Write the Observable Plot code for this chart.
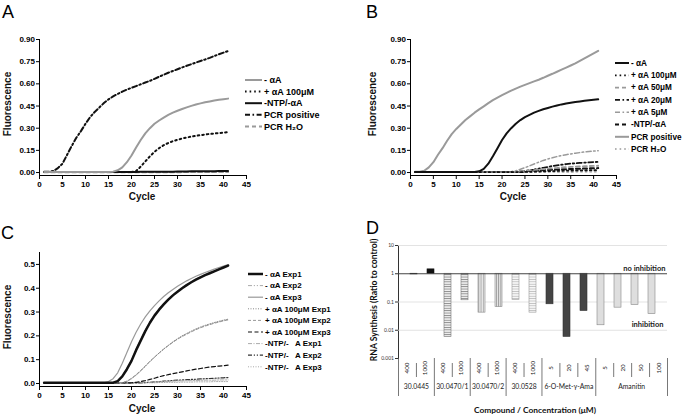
<!DOCTYPE html>
<html><head><meta charset="utf-8">
<script src="https://cdn.jsdelivr.net/npm/d3@7"></script>
<script src="https://cdn.jsdelivr.net/npm/@observablehq/plot@0.6"></script>
<style>
body{margin:0;background:#fff}
#wrap{position:relative;width:685px;height:415px;overflow:hidden;background:#fff}
.panel{position:absolute}
#overlay{position:absolute;left:0;top:0;pointer-events:none}
</style></head><body>
<div id="wrap">
  <div class="panel" id="pA" style="left:0;top:0"></div>
  <div class="panel" id="pB" style="left:342px;top:0"></div>
  <div class="panel" id="pC" style="left:0;top:207px"></div>
  <div class="panel" id="pD" style="left:342px;top:207px"></div>
  <div class="panel" id="pT" style="left:342px;top:358px"></div>
</div>
<script>
// ---------- data ----------
const cycles = [1,2,3,4,5,6,7,8,9,10,11,12,13,14,15,16,17,18,19,20,21,22,23,24,25,26,27,28,29,30,31,32,33,34,35,36,37,38,39,40,41];
const xTicks = [0,5,10,15,20,25,30,35,40,45];
const yTicksAB = [0,0.15,0.30,0.45,0.60,0.75,0.90];
const yTicksC = [0,0.1,0.2,0.3,0.4,0.5];

// Panel A
const A_minusAA = [0.003,0.003,0.003,0.003,0.003, 0.003,0.003,0.003,0.003,0.003, 0.003,0.003,0.003,0.003,0.003, 0.006,0.015,0.035,0.07,0.115,0.17,0.22,0.265,0.3,0.33,0.352,0.372,0.39,0.405,0.418,0.43,0.441,0.451,0.46,0.468,0.475,0.481,0.487,0.492,0.496,0.5];
const A_plus100 = [0.003,0.003,0.003,0.003,0.003, 0.003,0.003,0.003,0.003,0.003, 0.003,0.003,0.003,0.003,0.003, 0.003,0.003,0.003,0.003,0.003, 0.01,0.04,0.075,0.11,0.14,0.165,0.185,0.2,0.212,0.222,0.23,0.237,0.243,0.248,0.253,0.257,0.261,0.264,0.267,0.27,0.273];
const A_ntp = [0.004,0.004,0.004,0.004,0.004, 0.004,0.004,0.004,0.004,0.004, 0.004,0.004,0.004,0.004,0.004, 0.004,0.004,0.004,0.004,0.004, 0.004,0.005,0.005,0.005,0.005,0.006,0.006,0.006,0.006,0.007,0.007,0.007,0.008,0.008,0.008,0.009,0.009,0.009,0.01,0.01,0.01];
const A_pos = [0.005,0.005,0.01,0.03,0.06,0.12,0.18,0.235,0.28,0.33,0.375,0.41,0.44,0.47,0.495,0.515,0.532,0.547,0.561,0.573,0.585,0.597,0.609,0.62,0.634,0.648,0.662,0.675,0.687,0.699,0.711,0.722,0.733,0.744,0.755,0.765,0.776,0.788,0.8,0.811,0.822];
const A_h2o = [0.002,0.002,0.002,0.002,0.002, 0.002,0.002,0.002,0.002,0.002, 0.002,0.002,0.002,0.002,0.002, 0.002,0.002,0.002,0.002,0.002, 0.002,0.002,0.002,0.002,0.002, 0.002,0.002,0.002,0.002,0.002, 0.003,0.003,0.003,0.003,0.003, 0.003,0.003,0.003,0.003,0.003,0.003];

// Panel B
const B_minusAA = [0.003,0.003,0.003,0.003,0.003, 0.003,0.003,0.003,0.003,0.003, 0.003,0.003,0.003,0.003, 0.008,0.025,0.06,0.11,0.165,0.22,0.265,0.3,0.33,0.355,0.375,0.39,0.405,0.417,0.428,0.437,0.446,0.454,0.461,0.467,0.472,0.477,0.481,0.485,0.489,0.492,0.495];
const B_100 = [0.003,0.003,0.003,0.003,0.003, 0.003,0.003,0.003,0.003,0.003, 0.003,0.003,0.003,0.003,0.003, 0.003,0.003,0.003,0.003,0.003, 0.003,0.003,0.003,0.003, 0.004,0.005,0.006,0.007,0.008,0.009,0.01,0.011,0.012,0.013,0.013,0.014,0.015,0.015,0.016,0.016,0.017];
const B_50 = [0.003,0.003,0.003,0.003,0.003, 0.003,0.003,0.003,0.003,0.003, 0.003,0.003,0.003,0.003,0.003, 0.003,0.003,0.003,0.003,0.003, 0.003,0.003, 0.005,0.008,0.011,0.014,0.017,0.02,0.023,0.026,0.029,0.031,0.034,0.036,0.038,0.04,0.041,0.043,0.044,0.045,0.046];
const B_20 = [0.003,0.003,0.003,0.003,0.003, 0.003,0.003,0.003,0.003,0.003, 0.003,0.003,0.003,0.003,0.003, 0.003,0.003,0.003,0.003,0.003, 0.003,0.003,0.003, 0.006,0.01,0.015,0.02,0.026,0.032,0.038,0.044,0.049,0.053,0.057,0.06,0.063,0.065,0.067,0.069,0.071,0.072];
const B_5 = [0.003,0.003,0.003,0.003,0.003, 0.003,0.003,0.003,0.003,0.003, 0.003,0.003,0.003,0.003,0.003, 0.003,0.003,0.003,0.003,0.003, 0.003, 0.006,0.012,0.022,0.033,0.045,0.058,0.07,0.082,0.092,0.1,0.108,0.115,0.121,0.126,0.131,0.135,0.139,0.142,0.145,0.148];
const B_ntp = [0.004,0.004,0.004,0.004,0.004, 0.004,0.004,0.004,0.004,0.004, 0.004,0.004,0.004,0.004,0.004, 0.004,0.004,0.004,0.004,0.004, 0.004,0.004,0.004, 0.006,0.008,0.01,0.012,0.014,0.016,0.018,0.019,0.021,0.022,0.023,0.024,0.025,0.026,0.027,0.028,0.029,0.03];
const B_pos = [0.005,0.005,0.012,0.035,0.07,0.12,0.165,0.215,0.26,0.295,0.325,0.355,0.38,0.405,0.427,0.448,0.47,0.49,0.507,0.523,0.539,0.554,0.568,0.581,0.593,0.605,0.617,0.628,0.641,0.655,0.668,0.682,0.696,0.71,0.724,0.738,0.755,0.772,0.789,0.806,0.823];
const B_h2o = [0.004,0.004,0.004,0.004,0.004, 0.004,0.004,0.004,0.004,0.004, 0.004,0.004,0.004,0.004,0.004, 0.004,0.004,0.004,0.004,0.004, 0.004,0.004,0.004,0.004,0.004, 0.004,0.004,0.004,0.004,0.004, 0.004,0.004,0.004,0.004,0.004, 0.005,0.005,0.005,0.005,0.005,0.005];

// Panel C
const C_a1 = [0.003,0.003,0.003,0.003,0.003, 0.003,0.003,0.003,0.003,0.003, 0.003,0.003,0.003,0.003,0.003, 0.003, 0.01,0.03,0.06,0.095,0.14,0.18,0.22,0.255,0.285,0.31,0.332,0.352,0.37,0.385,0.4,0.413,0.425,0.436,0.446,0.455,0.463,0.471,0.479,0.487,0.495];
const C_a2 = [0.004,0.004,0.004,0.004,0.004, 0.004,0.004,0.004,0.004,0.004, 0.004,0.004,0.004,0.004,0.004, 0.004, 0.012,0.033,0.064,0.1,0.145,0.186,0.225,0.26,0.29,0.315,0.337,0.357,0.374,0.389,0.403,0.416,0.428,0.439,0.449,0.458,0.466,0.474,0.482,0.489,0.497];
const C_a3 = [0.003,0.003,0.003,0.003,0.003, 0.003,0.003,0.003,0.003,0.003, 0.003,0.003,0.003,0.003, 0.008,0.02,0.045,0.085,0.13,0.175,0.215,0.25,0.28,0.305,0.327,0.347,0.365,0.381,0.395,0.408,0.42,0.431,0.441,0.45,0.458,0.466,0.473,0.48,0.487,0.493,0.499];
const C_p1 = [0.003,0.003,0.003,0.003,0.003, 0.003,0.003,0.003,0.003,0.003, 0.003,0.003,0.003,0.003,0.003, 0.003,0.003,0.003, 0.008,0.02,0.035,0.052,0.072,0.092,0.11,0.128,0.145,0.16,0.175,0.188,0.2,0.21,0.22,0.229,0.237,0.244,0.25,0.256,0.261,0.266,0.27];
const C_p2 = [0.004,0.004,0.004,0.004,0.004, 0.004,0.004,0.004,0.004,0.004, 0.004,0.004,0.004,0.004,0.004, 0.004,0.004,0.004, 0.01,0.022,0.037,0.055,0.074,0.093,0.111,0.128,0.144,0.159,0.173,0.186,0.197,0.207,0.217,0.226,0.234,0.241,0.247,0.253,0.258,0.263,0.267];
const C_p3 = [0.003,0.003,0.003,0.003,0.003, 0.003,0.003,0.003,0.003,0.003, 0.003,0.003,0.003,0.003,0.003, 0.003,0.003,0.003,0.003,0.003, 0.005,0.008,0.012,0.017,0.022,0.028,0.033,0.037,0.041,0.045,0.049,0.053,0.057,0.06,0.063,0.066,0.069,0.071,0.073,0.075,0.077];
const C_n1 = [0.003,0.003,0.003,0.003,0.003, 0.003,0.003,0.003,0.003,0.003, 0.003,0.003,0.003,0.003,0.003, 0.003,0.003,0.003,0.003,0.003, 0.003,0.003, 0.004,0.005,0.006,0.007,0.008,0.009,0.01,0.011,0.011,0.012,0.012,0.013,0.013,0.014,0.014,0.014,0.015,0.015,0.015];
const C_n2 = [0.003,0.003,0.003,0.003,0.003, 0.003,0.003,0.003,0.003,0.003, 0.003,0.003,0.003,0.003,0.003, 0.003,0.003,0.003,0.003,0.003, 0.003,0.003, 0.004,0.005,0.007,0.008,0.01,0.011,0.013,0.014,0.015,0.016,0.017,0.018,0.019,0.02,0.021,0.022,0.023,0.024,0.025];
const C_n3 = [0.003,0.003,0.003,0.003,0.003, 0.003,0.003,0.003,0.003,0.003, 0.003,0.003,0.003,0.003,0.003, 0.003,0.003,0.003,0.003,0.003, 0.003,0.003,0.003,0.003,0.003, 0.004,0.004,0.005,0.005,0.005,0.006,0.006,0.006,0.007,0.007,0.007,0.007,0.008,0.008,0.008,0.008];

// Panel D
const dConc = ["400","1000","400","1000","400","1000","400","1000","5","20","45","5","20","50","100"];
const dCompound = ["30.0445","30.0445","30.0470/1","30.0470/1","30.0470/2","30.0470/2","30.0528","30.0528","6-O-Met-γ-Ama","6-O-Met-γ-Ama","6-O-Met-γ-Ama","Amanitin","Amanitin","Amanitin","Amanitin"];
const dValue = [0.95,1.43,0.0058,0.115,0.042,0.066,0.117,0.042,0.083,0.0058,0.048,0.015,0.063,0.078,0.037];
const dTicks = [0.001,0.01,0.1,1,10];

// ---------- styles ----------
const F = "'Liberation Sans', Arial, Helvetica, sans-serif";
const FD = "Lato, 'Open Sans', sans-serif";
const BLACK = "#111", GRAY = "#9a9a9a";
const DOT = "1.6,3", DASH = "4,3", DASHDOT = "5,2.5,1.6,2.5", DDD = "4,1.8,1.2,1.8,1.2,1.8";

const seriesA = [
  {label:"- αA", values:A_minusAA, stroke:GRAY, width:2},
  {label:"+ αA 100μM", values:A_plus100, stroke:BLACK, width:2, dash:DOT},
  {label:"-NTP/-αA", values:A_ntp, stroke:BLACK, width:2},
  {label:"PCR positive", values:A_pos, stroke:BLACK, width:2, dash:DASHDOT},
  {label:"PCR H₂O", values:A_h2o, stroke:GRAY, width:2, dash:DASH}
];
const seriesB = [
  {label:"- αA", values:B_minusAA, stroke:BLACK, width:2},
  {label:"+ αA 100μM", values:B_100, stroke:BLACK, width:1.8, dash:DOT},
  {label:"+ αA 50μM", values:B_50, stroke:GRAY, width:1.8, dash:DASH},
  {label:"+ αA 20μM", values:B_20, stroke:BLACK, width:1.8, dash:DASHDOT},
  {label:"+ αA 5μM", values:B_5, stroke:GRAY, width:1.5, dash:DASHDOT},
  {label:"-NTP/-αA", values:B_ntp, stroke:BLACK, width:2, dash:DASH},
  {label:"PCR positive", values:B_pos, stroke:GRAY, width:2},
  {label:"PCR H₂O", values:B_h2o, stroke:GRAY, width:1.5, dash:DOT}
];
const seriesC = [
  {label:"- αA Exp1", values:C_a1, stroke:BLACK, width:2.5},
  {label:"- αA Exp2", values:C_a2, stroke:"#aaa", width:1, dash:DDD},
  {label:"- αA Exp3", values:C_a3, stroke:"#999", width:1.2},
  {label:"+ αA 100μM Exp1", values:C_p1, stroke:"#888", width:1, dash:"1,1.5"},
  {label:"+ αA 100μM Exp2", values:C_p2, stroke:"#999", width:1, dash:"3,2"},
  {label:"+ αA 100μM Exp3", values:C_p3, stroke:BLACK, width:1.2, dash:"4,2.5"},
  {label:"-NTP/-   A Exp1", values:C_n1, stroke:"#aaa", width:1, dash:"4,1.5,1,1.5"},
  {label:"-NTP/-   A Exp2", values:C_n2, stroke:"#333", width:1.2, dash:DDD},
  {label:"-NTP/-   A Exp3", values:C_n3, stroke:"#aaa", width:1, dash:"1,1.5"}
];

function curvePanel(series, o) {
  return Plot.plot({
    width: o.width, height: o.height,
    marginLeft: o.ml, marginRight: o.mr, marginTop: o.mt, marginBottom: o.mb,
    style: {fontFamily: F, fontSize: "8px", fontWeight: "bold", background: "transparent", overflow: "visible", color: "#000"},
    x: {domain: [0, 45], ticks: xTicks, tickSize: 4, tickPadding: 1.5, line: true, label: null},
    y: {domain: o.ydomain, ticks: o.yticks, tickFormat: d3.format(o.fmt), tickSize: 3, tickPadding: 1.5, line: true, label: null},
    marks: series.slice().reverse().map(s => Plot.line(cycles, {
      x: d => d, y: (d, i) => s.values[i],
      stroke: s.stroke, strokeWidth: s.width,
      strokeDasharray: s.dash || null
    }))
  });
}

document.getElementById("pA").append(curvePanel(seriesA, {width:342, height:207, ml:39, mr:96, mt:39, mb:32, ydomain:[-0.02,0.9], yticks:yTicksAB, fmt:".2f"}));
document.getElementById("pB").append(curvePanel(seriesB, {width:343, height:207, ml:68, mr:69, mt:39, mb:32, ydomain:[-0.02,0.9], yticks:yTicksAB, fmt:".2f"}));
document.getElementById("pC").append(curvePanel(seriesC, {width:342, height:208, ml:39, mr:96, mt:45, mb:29, ydomain:[-0.0126,0.55], yticks:yTicksC, fmt:".1f"}));

// ---------- panel D ----------
const dData = dConc.map((c, i) => ({i, conc: c, compound: dCompound[i], value: dValue[i]}));
const groups = [];
dData.forEach(d => {
  const last = groups[groups.length - 1];
  if (last && last.name === d.compound) last.n++;
  else groups.push({name: d.compound, start: d.i, n: 1});
});
const groupBounds = [0, ...groups.map(g => g.start + g.n)];
const innerBounds = dData.map(d => d.i).filter(i => i > 0 && !groupBounds.includes(i));
const barStyle = {
  "30.0445": {fill: "#111", stroke: "#111"},
  "30.0470/1": {fill: "url(#pH)", stroke: "#777"},
  "30.0470/2": {fill: "url(#pV)", stroke: "#888"},
  "30.0528": {fill: "url(#pL)", stroke: "#999"},
  "6-O-Met-γ-Ama": {fill: "#444", stroke: "#333"},
  "Amanitin": {fill: "#dedede", stroke: "#888"}
};

const svgD = Plot.plot({
  width: 343, height: 152, marginLeft: 56, marginRight: 18, marginTop: 38, marginBottom: 1,
  style: {fontFamily: FD, fontSize: "5px", color: "#333", background: "transparent", overflow: "visible"},
  x: {type: "band", domain: dData.map(d => d.i), paddingInner: 0.56, paddingOuter: 0.28, axis: null},
  y: {type: "log", domain: [0.001, 10], ticks: dTicks, tickFormat: d => String(d), tickSize: 3, tickPadding: 1.5, line: true, label: null},
  marks: [
    Plot.ruleY(dTicks.filter(t => t !== 1 && t !== 0.001), {stroke: "#dcdcdc", strokeWidth: 0.8}),
    ...groups.map(g => Plot.barY(dData.filter(d => d.compound === g.name), {
      x: "i", y1: 1, y2: "value", fill: barStyle[g.name].fill, stroke: barStyle[g.name].stroke, strokeWidth: 0.6
    })),
    Plot.ruleY([1], {stroke: "#444", strokeWidth: 1}),
    Plot.text(["no inhibition"], {y: 1, text: d => d, frameAnchor: "right", textAnchor: "end", dx: -2, dy: -5, fontSize: 7.5, fontWeight: "bold", fill: "#222"}),
    Plot.text(["inhibition"], {y: 0.0155, text: d => d, frameAnchor: "right", textAnchor: "end", dx: -4, fontSize: 7.5, fontWeight: "bold", fill: "#222"})
  ]
});
d3.select(svgD).insert("defs", ":first-child").html(
  '<pattern id="pH" width="4" height="2.4" patternUnits="userSpaceOnUse"><rect width="4" height="2.4" fill="#f2f2f2"/><rect width="4" height="0.9" fill="#8a8a8a"/></pattern>' +
  '<pattern id="pV" width="2.2" height="4" patternUnits="userSpaceOnUse"><rect width="2.2" height="4" fill="#ececec"/><rect width="0.9" height="4" fill="#9a9a9a"/></pattern>' +
  '<pattern id="pL" width="4" height="2.4" patternUnits="userSpaceOnUse"><rect width="4" height="2.4" fill="#f6f6f6"/><rect width="4" height="0.8" fill="#bdbdbd"/></pattern>'
);
document.getElementById("pD").append(svgD);

const svgT = Plot.plot({
  width: 343, height: 57, marginLeft: 56, marginRight: 18, marginTop: 0, marginBottom: 0,
  style: {fontFamily: FD, fontSize: "6px", color: "#333", background: "transparent", overflow: "visible"},
  x: {domain: [0, 15], axis: null},
  y: {type: "band", domain: ["conc", "group"], range: [0, 38], padding: 0, axis: null},
  marks: [
    Plot.tickX(innerBounds, {x: d => d, y: () => "conc", stroke: "#555", strokeWidth: 0.8, insetTop: 5}),
    Plot.tickX(groupBounds, {x: d => d, y: () => "conc", stroke: "#555", strokeWidth: 0.8}),
    Plot.tickX(groupBounds, {x: d => d, y: () => "group", stroke: "#555", strokeWidth: 0.8}),
    Plot.text(dData, {x: d => d.i + 0.5, y: () => "conc", text: "conc", rotate: -90, fontSize: 6.2, fill: "#222"}),
    Plot.text(groups, {x: d => d.start + d.n / 2, y: () => "group", text: "name", fontSize: 6.8, fill: "#222"})
  ]
});
document.getElementById("pT").append(svgT);

// ---------- overlay: panel letters, axis titles, legends ----------
const ov = d3.select("#wrap").append("svg").attr("id", "overlay").attr("width", 685).attr("height", 415);
function letter(x, y, s) {
  ov.append("text").attr("x", x).attr("y", y).attr("font-family", F).attr("font-size", 18).text(s);
}
letter(2, 18, "A"); letter(366, 18, "B"); letter(1, 239, "C"); letter(366, 234, "D");

function ytitle(x, y, s, fam, fs) {
  ov.append("text").attr("transform", `translate(${x},${y}) rotate(-90)`).attr("text-anchor", "middle")
    .attr("font-family", fam).attr("font-weight", "bold").attr("font-size", fs).attr("fill", "#111").text(s);
}
function xtitle(x, y, s, fam, fs) {
  ov.append("text").attr("x", x).attr("y", y).attr("text-anchor", "middle")
    .attr("font-family", fam).attr("font-weight", "bold").attr("font-size", fs).attr("fill", "#111").text(s);
}
ytitle(11, 104, "Fluorescence", F, 10);
ytitle(375.5, 104, "Fluorescence", F, 10);
ytitle(10.5, 317, "Fluorescence", F, 10);
xtitle(142, 200, "Cycle", F, 10);
xtitle(513, 200, "Cycle", F, 10);
xtitle(142, 412, "Cycle", F, 10);
ytitle(377, 300, "RNA Synthesis (Ratio to control)", FD, 8.6);
xtitle(535, 413, "Compound / Concentration (μM)", FD, 8.4);

function legend(series, x0, x1, tx, y0, step, fs) {
  const g = ov.append("g").attr("font-family", F).attr("font-weight", "bold").attr("font-size", fs);
  series.forEach((s, i) => {
    const y = y0 + i * step;
    g.append("line").attr("x1", x0).attr("x2", x1).attr("y1", y).attr("y2", y)
      .attr("stroke", s.stroke).attr("stroke-width", s.width).attr("stroke-dasharray", s.dash || null);
    g.append("text").attr("x", tx).attr("y", y).attr("dy", "0.35em").style("white-space", "pre").text(s.label);
  });
}
legend(seriesA, 245, 262, 264, 80, 11.6, 9);
legend(seriesB, 615, 629, 631, 63, 12.3, 8.2);
legend(seriesC, 248, 263, 265, 274, 11.6, 8);
</script>
</body></html>
